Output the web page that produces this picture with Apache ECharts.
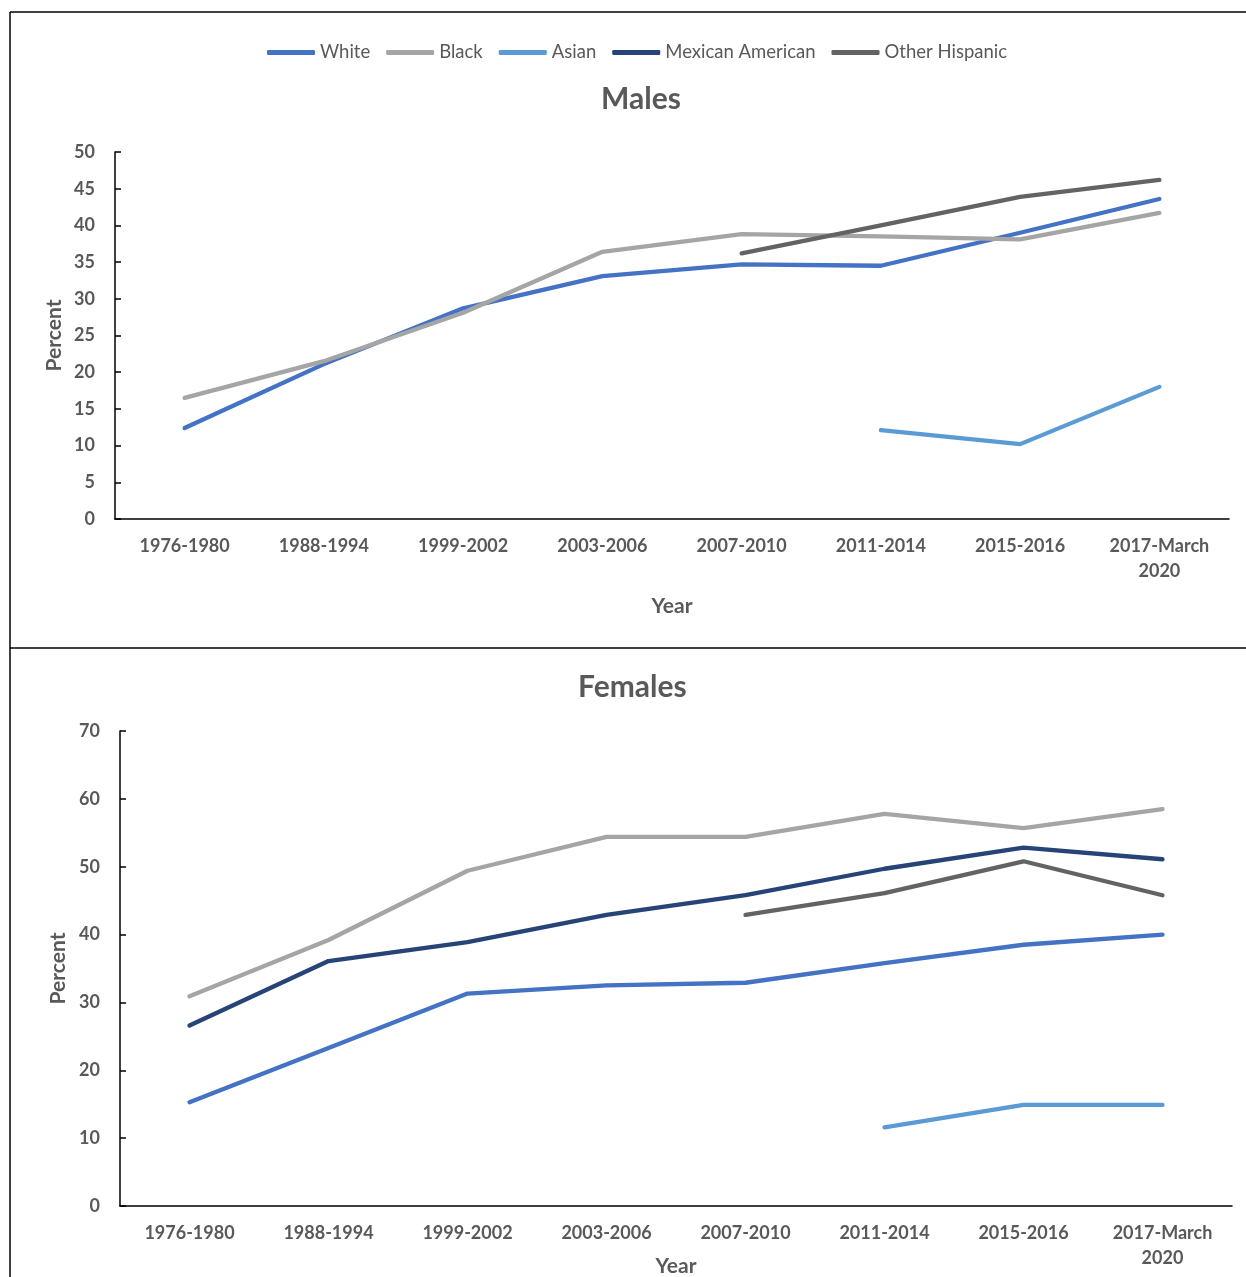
<!DOCTYPE html>
<html>
<head>
<meta charset="utf-8">
<script src="https://cdn.jsdelivr.net/npm/echarts@6/dist/echarts.min.js"></script>
<style>
html,body{margin:0;padding:0;background:#fff;}
#chart{width:1246px;height:1277px;}
</style>
</head>
<body>
<div id="chart"></div>
<script>
var categories = ['1976-1980','1988-1994','1999-2002','2003-2006','2007-2010','2011-2014','2015-2016','2017-March\n2020'];
var seriesNames = ['White','Black','Asian','Mexican American','Other Hispanic'];
var colors = ['#4472C4','#A5A5A5','#5B9BD5','#264478','#636363'];

var malesWhite    = [12.4, 21.1, 28.7, 33.1, 34.7, 34.5, 39.0, 43.6];
var malesBlack    = [16.5, 21.5, 28.1, 36.4, 38.8, 38.5, 38.1, 41.7];
var malesAsian    = [null, null, null, null, null, 12.1, 10.2, 18.0];
var malesMexican  = [null, null, null, null, null, null, null, null];
var malesOtherHisp= [null, null, null, null, 36.2, 40.0, 43.9, 46.2];

var femalesWhite    = [15.3, 23.3, 31.3, 32.5, 32.9, 35.8, 38.5, 40.0];
var femalesBlack    = [30.9, 39.2, 49.4, 54.4, 54.4, 57.8, 55.7, 58.5];
var femalesAsian    = [null, null, null, null, null, 11.6, 14.9, 14.9];
var femalesMexican  = [26.6, 36.1, 38.9, 42.9, 45.8, 49.7, 52.8, 51.1];
var femalesOtherHisp= [null, null, null, null, 42.9, 46.1, 50.8, 45.8];

var malesTicks = {min: 0, max: 50, interval: 5};
var femalesTicks = {min: 0, max: 70, interval: 10};

var FONT = 'Lato';
var TXT = '#595959';

var malesData = [malesWhite, malesBlack, malesAsian, malesMexican, malesOtherHisp];
var femalesData = [femalesWhite, femalesBlack, femalesAsian, femalesMexican, femalesOtherHisp];

function mkSeries(dataArr, idx) {
  return seriesNames.map(function (n, i) {
    return {
      name: n, type: 'line', xAxisIndex: idx, yAxisIndex: idx,
      data: dataArr[i], symbol: 'none', connectNulls: false,
      lineStyle: {color: colors[i], width: 4.3, cap: 'round', join: 'round'},
      itemStyle: {color: colors[i]},
      z: 2
    };
  });
}

function xAxisCfg(idx, gap) {
  return {
    type: 'category', gridIndex: idx, data: categories,
    name: 'Year', nameLocation: 'middle', nameGap: gap, nameMoveOverlap: false,
    nameTextStyle: {fontFamily: FONT, fontWeight: 'bold', fontSize: 21, color: TXT},
    axisLine: {lineStyle: {color: '#000', width: 1.5}},
    axisTick: {inside: true, length: 6, lineStyle: {color: '#000', width: 1.5}},
    axisLabel: {fontFamily: FONT, fontWeight: 'bold', fontSize: 18, color: TXT, margin: 15, interval: 0, lineHeight: 25},
    splitLine: {show: false}
  };
}
function yAxisCfg(idx, t, gap) {
  return {
    type: 'value', gridIndex: idx, min: t.min, max: t.max, interval: t.interval,
    name: 'Percent', nameLocation: 'middle', nameGap: gap, nameRotate: 90, nameMoveOverlap: false,
    nameTextStyle: {fontFamily: FONT, fontWeight: 'bold', fontSize: 21, color: TXT},
    axisLine: {show: true, lineStyle: {color: '#000', width: 1.5}},
    axisTick: {show: true, inside: true, length: 6, lineStyle: {color: '#000', width: 1.5}},
    axisLabel: {fontFamily: FONT, fontWeight: 'bold', fontSize: 18, color: TXT, margin: 20},
    splitLine: {show: false}
  };
}

var chart = echarts.init(document.getElementById('chart'));
chart.setOption({
  backgroundColor: '#fff',
  animation: false,
  color: colors,
  legend: {
    data: seriesNames, top: 38, left: 262,
    icon: 'roundRect', itemWidth: 48, itemHeight: 5, itemGap: 16,
    textStyle: {fontFamily: FONT, fontSize: 18.5, color: TXT}
  },
  title: [
    {text: 'Males', left: 596, top: 79,
     textStyle: {fontFamily: FONT, fontWeight: 'bold', fontSize: 30, color: TXT}},
    {text: 'Females', left: 573, top: 667,
     textStyle: {fontFamily: FONT, fontWeight: 'bold', fontSize: 30, color: TXT}}
  ],
  grid: [
    {left: 115, right: 17, top: 152, height: 367, outerBoundsMode: 'none', containLabel: false},
    {left: 120, right: 14, top: 731, height: 475, outerBoundsMode: 'none', containLabel: false}
  ],
  xAxis: [xAxisCfg(0, 77), xAxisCfg(1, 50)],
  yAxis: [yAxisCfg(0, malesTicks, 50), yAxisCfg(1, femalesTicks, 51)],
  series: mkSeries(malesData, 0).concat(mkSeries(femalesData, 1)),
  graphic: [
    {type: 'line', shape: {x1: 10, y1: 12, x2: 1246, y2: 12}, style: {stroke: '#000', lineWidth: 1.5}},
    {type: 'line', shape: {x1: 10, y1: 12, x2: 10, y2: 1277}, style: {stroke: '#000', lineWidth: 1.5}},
    {type: 'line', shape: {x1: 10, y1: 648, x2: 1246, y2: 648}, style: {stroke: '#000', lineWidth: 1.5}}
  ]
});
</script>
</body>
</html>
